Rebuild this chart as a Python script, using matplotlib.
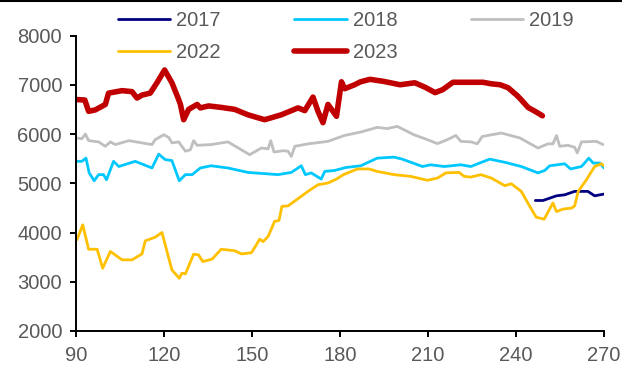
import matplotlib
matplotlib.use("Agg")
import matplotlib.pyplot as plt
from matplotlib.lines import Line2D

plt.rcParams['font.family'] = ['Liberation Sans', 'DejaVu Sans']

# Day of year (x) and price (y) for each season
days_2017 = [246.6, 249.2, 253.8, 256.6, 260, 264.5, 266.8, 270]
vals_2017 = [4650, 4650, 4745, 4765, 4835, 4835, 4745, 4780]

days_2018 = [90, 92, 93.4, 94.5, 96.2, 97.7, 99.4, 100.4, 102.8, 104.6,
             110.2, 115.9, 118.2, 120.4, 122.7, 125.2, 127.3, 129.6, 132.4, 136,
             141.8, 148.6, 158.9, 163.4, 166.8, 168.2, 170.2, 173.6, 174.8, 178.2,
             182, 187.1, 192.7, 198.4, 201.2, 208.1, 210.9, 215.5, 221.2, 224.6,
             229.1, 231, 236.2, 241.8, 247.5, 249.8, 251.5, 256.6, 258.6, 262.3,
             263.6, 264.8, 266.3, 268.6, 270]
vals_2018 = [5445, 5445, 5510, 5210, 5050, 5175, 5175, 5070, 5445, 5340,
             5445, 5310, 5590, 5480, 5460, 5050, 5175, 5175, 5310, 5355,
             5310, 5220, 5175, 5220, 5355, 5175, 5210, 5085, 5240, 5260,
             5320, 5355, 5510, 5530, 5490, 5340, 5375, 5340, 5375, 5340,
             5445, 5490, 5425, 5340, 5210, 5260, 5355, 5395, 5290, 5340,
             5425, 5510, 5410, 5410, 5310]

days_2019 = [90, 92, 93.2, 94.3, 97.7, 100, 101.7, 103.4, 108, 115.9,
             117, 119.9, 121.6, 122.7, 125, 127.3, 129, 130.1, 131.3, 136,
             141.8, 149.2, 153.2, 155.5, 156.4, 157.5, 160.6, 162.3, 163.4, 164.6,
             169.1, 175.9, 181.5, 187.1, 192.7, 196.1, 199.5, 205.2, 209.8, 213.2,
             216.6, 219.5, 221.2, 224.6, 226.8, 228.5, 235, 241.3, 247.5, 250.9,
             252.6, 253.8, 254.9, 257.7, 260, 260.9, 262.3, 267.4, 269.7]
vals_2019 = [5920, 5905, 6000, 5865, 5840, 5750, 5840, 5785, 5865, 5785,
             5885, 5985, 5930, 5820, 5840, 5650, 5680, 5865, 5770, 5785,
             5840, 5580, 5715, 5700, 5865, 5635, 5660, 5650, 5545, 5750,
             5800, 5850, 5970, 6040, 6135, 6110, 6155, 5985, 5885, 5805,
             5885, 5970, 5850, 5840, 5800, 5950, 6020, 5920, 5715, 5800,
             5800, 5970, 5750, 5770, 5730, 5615, 5840, 5850, 5785]

days_2022 = [90.3, 92.3, 94.3, 97.2, 99.1, 101.7, 105.7, 109.1, 112.5, 113.6,
             117, 119.3, 122.7, 125.2, 126.1, 127.3, 130.1, 131.8, 133.2, 136.4,
             139.5, 144.1, 146.4, 149.8, 151.5, 152.6, 153.8, 155.5, 157.7, 159.2,
             160.2, 162.3, 169.1, 172.5, 175.9, 178.8, 181.2, 185.9, 189.9, 192.7,
             198.4, 204.1, 209.8, 213.2, 216.1, 220.6, 222.3, 224.6, 228, 231.6,
             236.2, 238.4, 241.8, 244.7, 246.9, 249.6, 252.6, 253.8, 256, 258.9,
             260, 261.2, 264, 266.8, 269.1, 270]
vals_2022 = [3850, 4155, 3660, 3660, 3275, 3615, 3445, 3445, 3565, 3830,
             3905, 4000, 3240, 3070, 3175, 3160, 3560, 3545, 3410, 3460,
             3660, 3630, 3565, 3590, 3750, 3865, 3815, 3920, 4225, 4245,
             4530, 4540, 4835, 4970, 5005, 5085, 5175, 5290, 5290, 5240,
             5175, 5140, 5060, 5105, 5210, 5220, 5140, 5125, 5175, 5105,
             4950, 4990, 4835, 4530, 4310, 4270, 4600, 4425, 4475, 4495,
             4540, 4835, 5070, 5340, 5395, 5355]

days_2023 = [90, 93, 94.3, 96.6, 100, 101.1, 105.7, 109.1, 110.8, 112.5,
             115.3, 117.6, 120.2, 122.7, 124.8, 125.6, 126.7, 128.4, 131.3, 132.4,
             135.2, 139.5, 144.1, 148.6, 154.3, 160, 165.7, 168, 170.8, 172.5,
             174.2, 175.9, 178.8, 180.5, 181.6, 185, 187, 190.2, 194.7, 200.5,
             205.5, 209, 212.4, 215, 218.5, 228.8, 231.5, 234.6, 237.3, 240.4,
             241.7, 244.1, 246.8, 249]
vals_2023 = [6700, 6690, 6460, 6490, 6600, 6830, 6880, 6860, 6730, 6790,
             6830, 7040, 7300, 7040, 6730, 6600, 6290, 6500, 6600, 6530,
             6570, 6540, 6500, 6390, 6290, 6390, 6530, 6475, 6750, 6460,
             6230, 6600, 6360, 7060, 6920, 7000, 7060, 7110, 7070, 7000,
             7040, 6950, 6840, 6900, 7050, 7050, 7020, 7000, 6940, 6780,
             6700, 6540, 6450, 6370]

x_ticks = [90, 120, 150, 180, 210, 240, 270]
y_ticks = [2000, 3000, 4000, 5000, 6000, 7000, 8000]

label_color = '#595959'
font_size = 14.5

fig = plt.figure(figsize=(6.22, 3.69), dpi=100)
ax = fig.add_axes([76 / 622, 1 - 331 / 369, (604 - 76) / 622, (331 - 35.5) / 369])

series = [
    ('2017', days_2017, vals_2017, '#000080', 2.0),
    ('2018', days_2018, vals_2018, '#00C8FF', 2.0),
    ('2019', days_2019, vals_2019, '#BFBFBF', 2.0),
    ('2022', days_2022, vals_2022, '#FFC000', 2.0),
    ('2023', days_2023, vals_2023, '#C00000', 4.0),
]
handles = {}
for name, xs, ys, color, lw in series:
    (ln,) = ax.plot(xs, ys, color=color, lw=lw, solid_joinstyle='round',
                    solid_capstyle='round', label=name)
    handles[name] = ln

ax.set_xlim(90, 270)
ax.set_ylim(2000, 8000)
ax.set_xticks(x_ticks)
ax.set_yticks(y_ticks)
ax.spines['top'].set_visible(False)
ax.spines['right'].set_visible(False)
for side in ('left', 'bottom'):
    ax.spines[side].set_linewidth(1.4)
    ax.spines[side].set_color('black')
ax.tick_params(axis='both', direction='out', length=4, width=1.4, color='black',
               labelsize=font_size, labelcolor=label_color)
ax.tick_params(axis='x', pad=7)
ax.tick_params(axis='y', pad=6)

order = ['2017', '2022', '2018', '2023', '2019']
fig.legend([handles[k] for k in order], order, ncol=3, frameon=False,
           loc='upper left', bbox_to_anchor=(118 / 622, 1 - 11 / 369),
           fontsize=font_size, labelcolor=label_color, handlelength=2.6,
           handletextpad=0.3, columnspacing=3.65, labelspacing=0.66, borderpad=0,
           borderaxespad=0)

# thin rule along the top edge
fig.add_artist(Line2D([0, 1], [1 - 1 / 369, 1 - 1 / 369], color='black', lw=1.5,
                      transform=fig.transFigure))

fig.savefig('out.png', dpi=100)
